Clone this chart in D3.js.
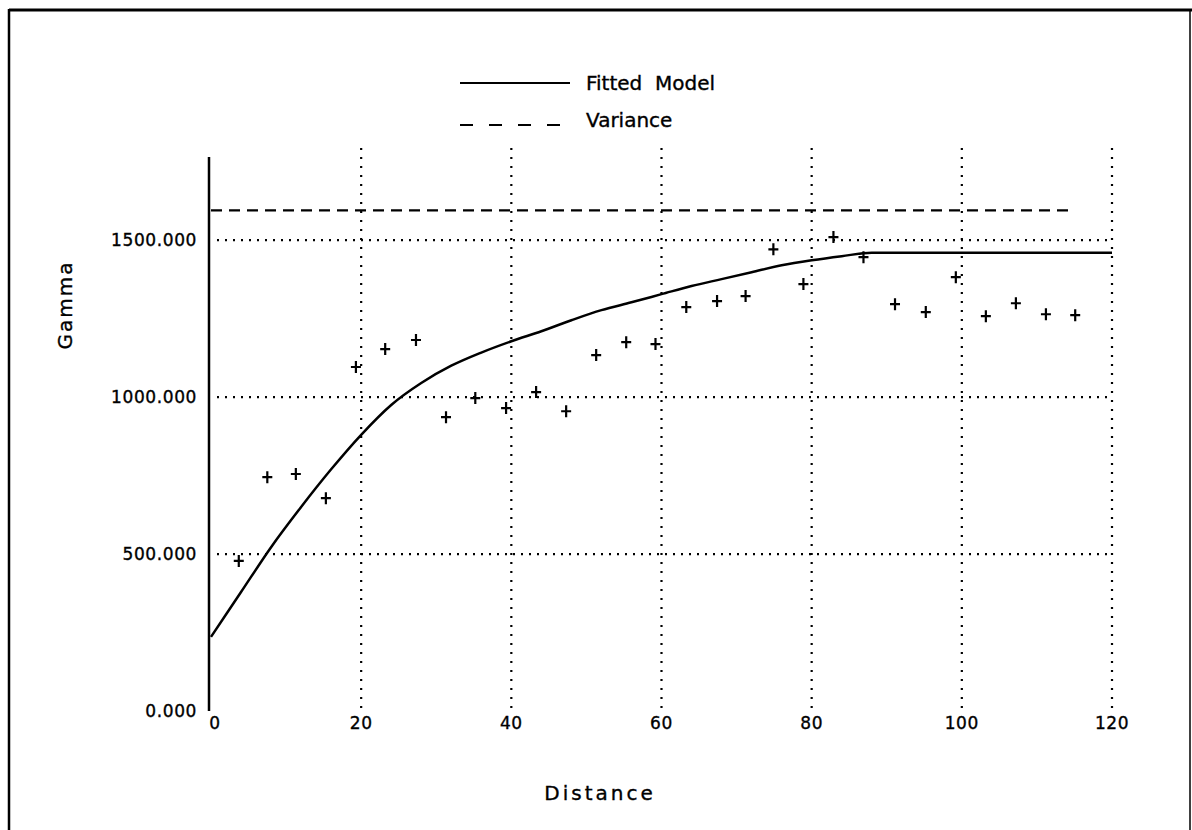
<!DOCTYPE html>
<html>
<head>
<meta charset="utf-8">
<script src="https://cdn.jsdelivr.net/npm/d3@7/dist/d3.min.js"></script>
<style>
  html, body { margin: 0; padding: 0; background: #fff; }
  svg text { font-family: "DejaVu Sans", sans-serif; fill: #000; stroke: #000; stroke-width: 0.35px; }
</style>
</head>
<body>
<svg id="chart" width="1192" height="830"></svg>
<script>
// ---- data ----
const lagDistances = [3.7, 7.5, 11.3, 15.3, 19.3, 23.2, 27.3, 31.3, 35.2, 39.3, 43.3, 47.3, 51.3, 55.3, 59.2,
                      63.3, 67.4, 71.2, 74.9, 78.9, 82.9, 86.9, 91.1, 95.2, 99.2, 103.2, 107.2, 111.2, 115.1];
const gammaValues  = [478, 745, 755, 678, 1096, 1153, 1182, 936, 997, 965, 1016, 955, 1134, 1175, 1169,
                      1287, 1306, 1322, 1471, 1360, 1510, 1446, 1296, 1271, 1382, 1258, 1299, 1264, 1261];
const modelDistances = [0, 4, 8, 12, 16, 20, 24, 28, 32, 36, 40, 44, 48, 52, 56, 60, 64, 68, 72, 76, 80, 84, 88, 120];
const modelValues    = [236, 379, 522, 650, 770, 880, 975, 1045, 1100, 1142, 1178, 1210, 1245, 1277, 1302, 1328,
                        1354, 1376, 1398, 1420, 1436, 1449, 1460, 1460];
const varianceValue = 1595;
const varianceRange = [0, 115];
const xTicks = [0, 20, 40, 60, 80, 100, 120];
const yTicks = [0, 500, 1000, 1500];
const yTickLabels = ["0.000", "500.000", "1000.000", "1500.000"];
const legendLabels = ["Fitted  Model", "Variance"];
const xTitle = "Distance";
const yTitle = "Gamma";

// ---- drawing ----
const svg = d3.select("#chart");
const x = d3.scaleLinear().domain([0, 120]).range([211, 1112]);
const y = d3.scaleLinear().domain([0, 1765]).range([711, 157]);

// frame
svg.append("line").attr("x1", 9).attr("x2", 1192).attr("y1", 10).attr("y2", 10)
  .attr("stroke", "#000").attr("stroke-width", 3);
svg.append("line").attr("x1", 9).attr("x2", 9).attr("y1", 9).attr("y2", 830)
  .attr("stroke", "#000").attr("stroke-width", 2.5);
svg.append("line").attr("x1", 1190).attr("x2", 1190).attr("y1", 9).attr("y2", 830)
  .attr("stroke", "#000").attr("stroke-width", 1.5);

// vertical dotted grid lines
svg.append("g").selectAll("line").data(xTicks.slice(1)).join("line")
  .attr("x1", d => x(d)).attr("x2", d => x(d))
  .attr("y1", 148).attr("y2", y(0))
  .attr("stroke", "#000").attr("stroke-width", 2.2)
  .attr("stroke-dasharray", "2,7");

// horizontal dotted grid lines
svg.append("g").selectAll("line").data(yTicks.slice(1)).join("line")
  .attr("x1", x(0) + 6).attr("x2", x(120))
  .attr("y1", d => y(d)).attr("y2", d => y(d))
  .attr("stroke", "#000").attr("stroke-width", 2.2)
  .attr("stroke-dasharray", "2,6");

// y axis line
svg.append("line").attr("x1", x(0) - 2).attr("x2", x(0) - 2)
  .attr("y1", y(1765)).attr("y2", y(0))
  .attr("stroke", "#000").attr("stroke-width", 2.5);

// y tick labels
svg.append("g").selectAll("text").data(yTicks).join("text")
  .attr("x", 197).attr("y", d => y(d)).attr("dy", "0.36em")
  .attr("text-anchor", "end").attr("font-size", 17).attr("letter-spacing", 0.6)
  .text((d, i) => yTickLabels[i]);

// x tick labels
svg.append("g").selectAll("text").data(xTicks).join("text")
  .attr("x", d => d === 0 ? x(d) + 4 : x(d)).attr("y", y(0) + 18)
  .attr("text-anchor", "middle").attr("font-size", 17).attr("letter-spacing", 0.6)
  .text(d => d);

// variance dashed line
svg.append("line")
  .attr("x1", x(varianceRange[0])).attr("x2", x(varianceRange[1]))
  .attr("y1", y(varianceValue)).attr("y2", y(varianceValue))
  .attr("stroke", "#000").attr("stroke-width", 2.2)
  .attr("stroke-dasharray", "11,7");

// fitted model
const modelData = modelDistances.map((d, i) => [d, modelValues[i]]);
svg.append("path").datum(modelData)
  .attr("d", d3.line().x(d => x(d[0])).y(d => y(d[1])).curve(d3.curveMonotoneX))
  .attr("fill", "none").attr("stroke", "#000").attr("stroke-width", 2.5);

// experimental points (+)
const pts = lagDistances.map((d, i) => [d, gammaValues[i]]);
svg.append("g").selectAll("path").data(pts).join("path")
  .attr("d", d => {
    const cx = x(d[0]), cy = y(d[1]);
    return `M${cx - 5},${cy}H${cx + 5}M${cx},${cy - 6}V${cy + 6}`;
  })
  .attr("stroke", "#000").attr("stroke-width", 2.2).attr("fill", "none");

// legend
const legend = svg.append("g");
legend.append("line").attr("x1", 460).attr("x2", 570).attr("y1", 83).attr("y2", 83)
  .attr("stroke", "#000").attr("stroke-width", 2.2);
legend.append("line").attr("x1", 460).attr("x2", 572).attr("y1", 125).attr("y2", 125)
  .attr("stroke", "#000").attr("stroke-width", 2.2).attr("stroke-dasharray", "13,16");
legend.append("text").attr("x", 586).attr("y", 90).attr("font-size", 20)
  .attr("xml:space", "preserve").style("white-space", "pre").text(legendLabels[0]);
legend.append("text").attr("x", 586).attr("y", 127).attr("font-size", 20).text(legendLabels[1]);

// axis titles
svg.append("text").attr("x", 600).attr("y", 800).attr("text-anchor", "middle")
  .attr("font-size", 20).attr("letter-spacing", 3).text(xTitle);
svg.append("text").attr("transform", "translate(72,305) rotate(-90)")
  .attr("text-anchor", "middle").attr("font-size", 20).attr("letter-spacing", 2).text(yTitle);
</script>
</body>
</html>
